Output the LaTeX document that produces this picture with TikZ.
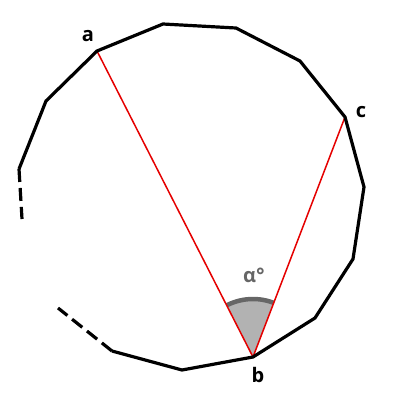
\documentclass[tikz,border=0pt]{standalone}
\usepackage{fontspec}
\setmainfont{Open Sans}
\begin{document}
\begin{tikzpicture}[x=1pt,y=-1pt,
  outline/.style={draw=black,line width=3.2pt,line join=miter},
  dashout/.style={outline,dash pattern=on 13pt off 6pt},
  chord/.style={draw=red!90!black,line width=1.5pt},
  lbl/.style={font=\fontsize{20}{24}\selectfont\bfseries,inner sep=0pt},
  anglbl/.style={font=\fontsize{20}{24}\selectfont\bfseries,text=black!60,inner sep=0pt}]
\useasboundingbox (0,0) rectangle (400,400);
\coordinate (p1) at (19,169);
\coordinate (p2) at (46,101);
\coordinate (a) at (97,51);
\coordinate (p4) at (163,24);
\coordinate (p5) at (236,28);
\coordinate (p6) at (300,61);
\coordinate (c) at (345,117);
\coordinate (p8) at (364,187);
\coordinate (p9) at (353,259);
\coordinate (p10) at (315,318);
\coordinate (b) at (253,357);
\coordinate (p12) at (182,370);
\coordinate (p13) at (112,351);
\coordinate (e1) at (22,219);
\coordinate (e2) at (58,308);
% angle wedge
\fill[black!30] (b) -- ++(-117:58) arc[start angle=-117, end angle=-69, radius=58] -- cycle;
\draw[black!60,line width=4.5pt] (b) ++(-117:58) arc[start angle=-117, end angle=-69, radius=58];
\draw[chord] (b) -- (a);
\draw[chord] (b) -- (c);
\draw[outline] (p1) -- (p2) -- (a) -- (p4) -- (p5) -- (p6) -- (c) -- (p8) -- (p9) -- (p10) -- (b) -- (p12) -- (p13);
\draw[dashout] (p1) -- (e1);
\draw[dashout] (p13) -- (e2);
\node[lbl] (la) at (88,36) {a};
\node[lbl] (lc) at (361,112) {c};
\node[lbl] (lb) at (258,375) {b};
\node[anglbl] (lal) at (254,275) {α°};
\end{tikzpicture}
\end{document}
